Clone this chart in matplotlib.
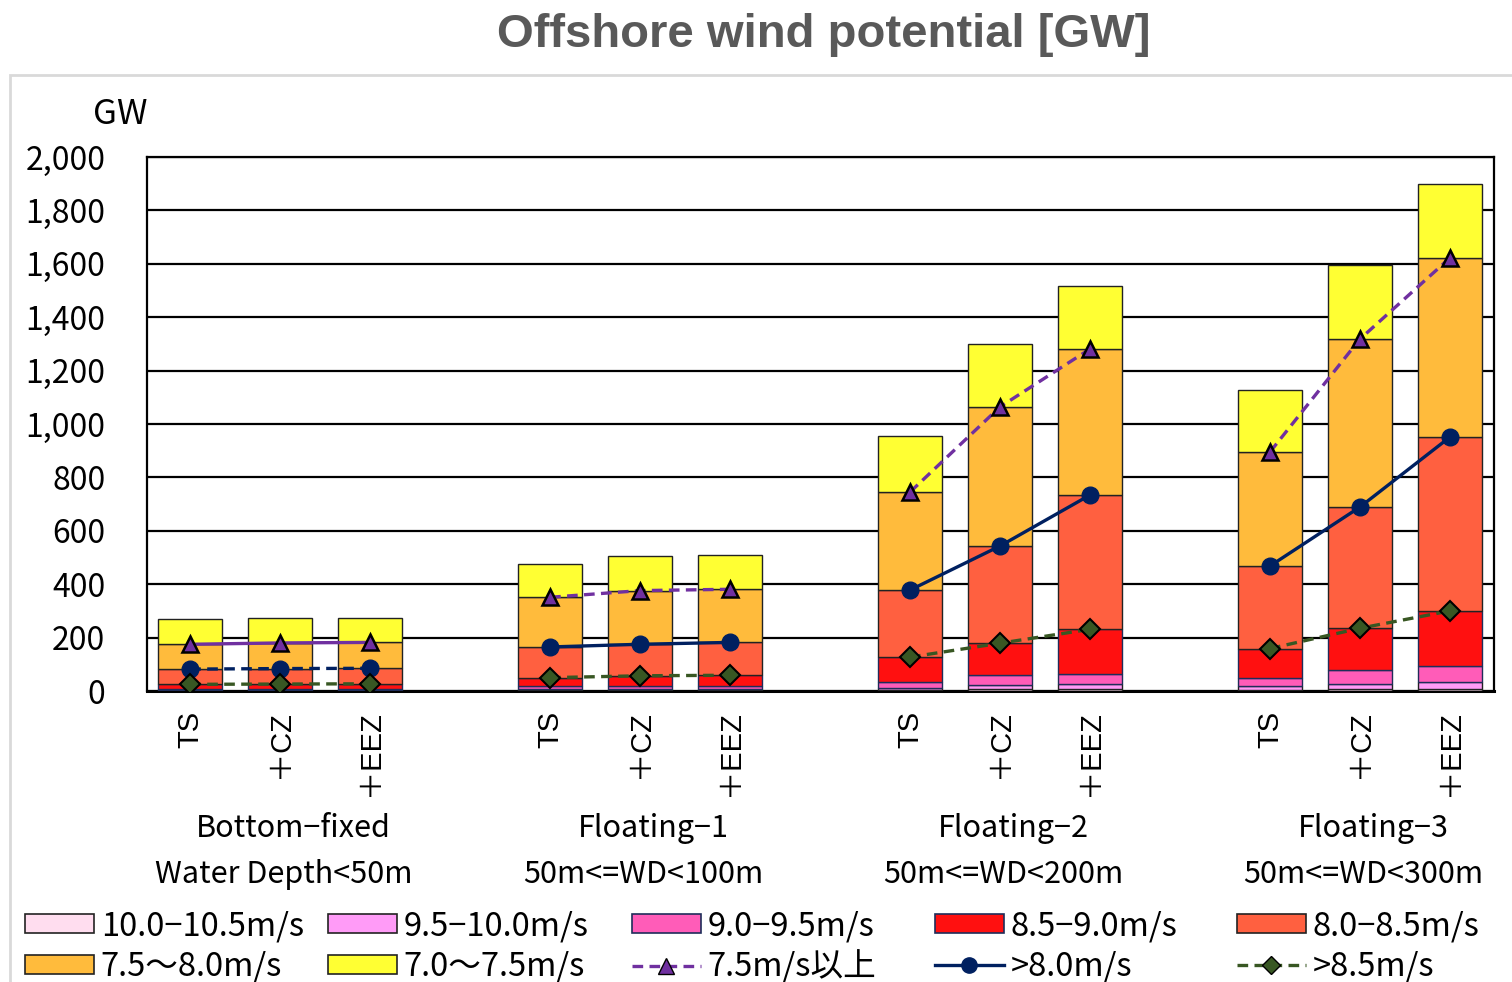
import numpy as np
import matplotlib
matplotlib.use("Agg")
import matplotlib.pyplot as plt
from matplotlib.patches import Patch, Rectangle
from matplotlib.lines import Line2D
from matplotlib.ticker import FuncFormatter, MultipleLocator

plt.rcParams['font.family'] = ['Noto Sans CJK JP', 'DejaVu Sans']

# ---- data (GW) ----
groups = ["Bottom\u2212fixed", "Floating\u22121", "Floating\u22122", "Floating\u22123"]
group_sub = ["Water Depth<50m", "50m<=WD<100m", "50m<=WD<200m", "50m<=WD<300m"]
scenarios = ["TS", "\uff0bCZ", "\uff0bEEZ"]

# wind speed bins, bottom to top of each stack
bins = ["10.0\u221210.5m/s", "9.5\u221210.0m/s", "9.0\u22129.5m/s",
        "8.5\u22129.0m/s", "8.0\u22128.5m/s", "7.5\u301c8.0m/s", "7.0\u301c7.5m/s"]

# one value per bar (group x scenario) for each bin
s_10_105 = [1, 1, 1,   3, 3, 3,   5, 6, 7,    5, 7, 9]
s_95_10 = [2, 2, 2,   5, 5, 5,   6, 15, 19,  12, 19, 26]
s_90_95 = [4, 4, 4,   10, 11, 11, 24, 38, 38, 33, 51, 59]
s_85_90 = [18, 19, 20, 32, 38, 40, 92, 120, 167, 109, 158, 206]
s_80_85 = [57, 58, 58, 115, 118, 123, 251, 364, 503, 309, 454, 651]
s_75_80 = [93, 96, 97, 186, 201, 199, 367, 521, 547, 427, 629, 671]
s_70_75 = [95, 92, 90, 125, 130, 128, 210, 236, 236, 232, 278, 277]

bin_colors = ["#FFDDEF", "#FF9BF7", "#FF5CB8", "#FF1010", "#FF6040", "#FFBB3C", "#FFFF33"]
bin_edges = ["#222222", "#222222", "#1F2D5A", "#1F2D5A", "#222222", "#222222", "#222222"]

segments = np.array([s_10_105, s_95_10, s_90_95, s_85_90, s_80_85, s_75_80, s_70_75], dtype=float)

# bar positions: 3 bars per group, one empty slot between groups
xpos = np.array([g * 4 + j for g in range(4) for j in range(3)], dtype=float)

fig = plt.figure(figsize=(15.12, 9.82), dpi=100)
fig.patches.append(Rectangle((10 / 1512, -0.05), 1.2, (982 - 75) / 982 + 0.05,
                             transform=fig.transFigure, fill=False,
                             edgecolor="#D9D9D9", linewidth=2, zorder=0))

ax = fig.add_axes([147 / 1512, 1 - 691 / 982, (1494 - 147) / 1512, (691 - 157) / 982])

bottom = np.zeros(len(xpos))
for k in range(len(bins)):
    ax.bar(xpos, segments[k], 0.71, bottom=bottom, color=bin_colors[k],
           edgecolor=bin_edges[k], linewidth=1.0, zorder=3)
    bottom += segments[k]

cum = np.cumsum(segments, axis=0)
over75 = cum[5]
over80 = cum[4]
over85 = cum[3]

purple = "#7030A0"
navy = "#002060"
green = "#385723"
dash = (3.2, 1.9)

for g in range(4):
    sl = slice(g * 3, g * 3 + 3)
    xs = xpos[sl]
    ls75 = "-" if g == 0 else "--"
    ls80 = "--" if g == 0 else "-"
    l1, = ax.plot(xs, over75[sl], color=purple, lw=2.4, ls=ls75, marker="^",
                  markersize=12, markerfacecolor=purple, markeredgecolor="black",
                  markeredgewidth=1.8, zorder=5)
    l2, = ax.plot(xs, over80[sl], color=navy, lw=2.4, ls=ls80, marker="o",
                  markersize=12, markerfacecolor=navy, markeredgecolor=navy, zorder=5)
    l3, = ax.plot(xs, over85[sl], color=green, lw=2.4, ls="--", marker="D",
                  markersize=10, markerfacecolor=green, markeredgecolor="black",
                  markeredgewidth=1.5, zorder=5)
    for ln in (l1, l2, l3):
        if ln.get_linestyle() == "--":
            ln.set_dashes(dash)

ax.set_xlim(-0.48, 14.49)
ax.set_ylim(0, 2000)
ax.yaxis.set_major_locator(MultipleLocator(200))
ax.yaxis.set_major_formatter(FuncFormatter(lambda v, p: f"{int(v):,}"))
ax.grid(axis="y", color="black", linewidth=1.6, zorder=1)
ax.set_axisbelow(True)
for sp in ax.spines.values():
    sp.set_color("black")
    sp.set_linewidth(1.6)
ax.spines["bottom"].set_linewidth(2.2)

ax.tick_params(axis="y", length=0, pad=30, labelsize=23)
ax.set_xticks(xpos)
ax.set_xticklabels(scenarios * 4, rotation=90, fontsize=21,
                   family=['Liberation Sans', 'Noto Sans CJK JP'])
for lbl in ax.get_xticklabels():
    lbl.set_verticalalignment("top")
ax.tick_params(axis="x", length=0, pad=14)

trans = ax.get_xaxis_transform()
for g in range(4):
    cx = g * 4 + 1
    ax.text(cx + 0.15, -0.258, groups[g], transform=trans, ha="center", va="center",
            fontsize=22)
    ax.text(cx + 0.04, -0.344, group_sub[g], transform=trans, ha="center", va="center",
            fontsize=22)

fig.text(120 / 1512, 1 - 115 / 982, "GW", ha="center", va="center", fontsize=25)
fig.text(824 / 1512, 1 - 35 / 982, "Offshore wind potential [GW]", ha="center",
         va="center", fontsize=34, fontweight="bold", color="#595959",
         family=['Liberation Sans', 'DejaVu Sans'])

# legend entries laid out on a 2 x 5 grid
handles = [Patch(facecolor=bin_colors[k], edgecolor=bin_edges[k], linewidth=1.2)
           for k in range(len(bins))]
labels = list(bins)
handles.append(Line2D([], [], color=purple, lw=2.4, ls="--", dashes=dash, marker="^",
                      markersize=11, markerfacecolor=purple, markeredgecolor="black"))
labels.append("7.5m/s以上")
handles.append(Line2D([], [], color=navy, lw=2.4, marker="o", markersize=11,
                      markerfacecolor=navy, markeredgecolor=navy))
labels.append(">8.0m/s")
handles.append(Line2D([], [], color=green, lw=2.4, ls="--", dashes=dash, marker="D",
                      markersize=9, markerfacecolor=green, markeredgecolor="black"))
labels.append(">8.5m/s")

col_x = [25, 328, 632, 935, 1237]
row_y = [926, 967]
for i, (h, lab) in enumerate(zip(handles, labels)):
    r, c = divmod(i, 5)
    fig.legend(handles=[h], labels=[lab], loc="center left",
               bbox_to_anchor=(col_x[c] / 1512, 1 - row_y[r] / 982),
               frameon=False, fontsize=23.5, borderpad=0, borderaxespad=0,
               handlelength=2.1, handleheight=0.55, handletextpad=0.22)

fig.savefig("out.png", dpi=100)
